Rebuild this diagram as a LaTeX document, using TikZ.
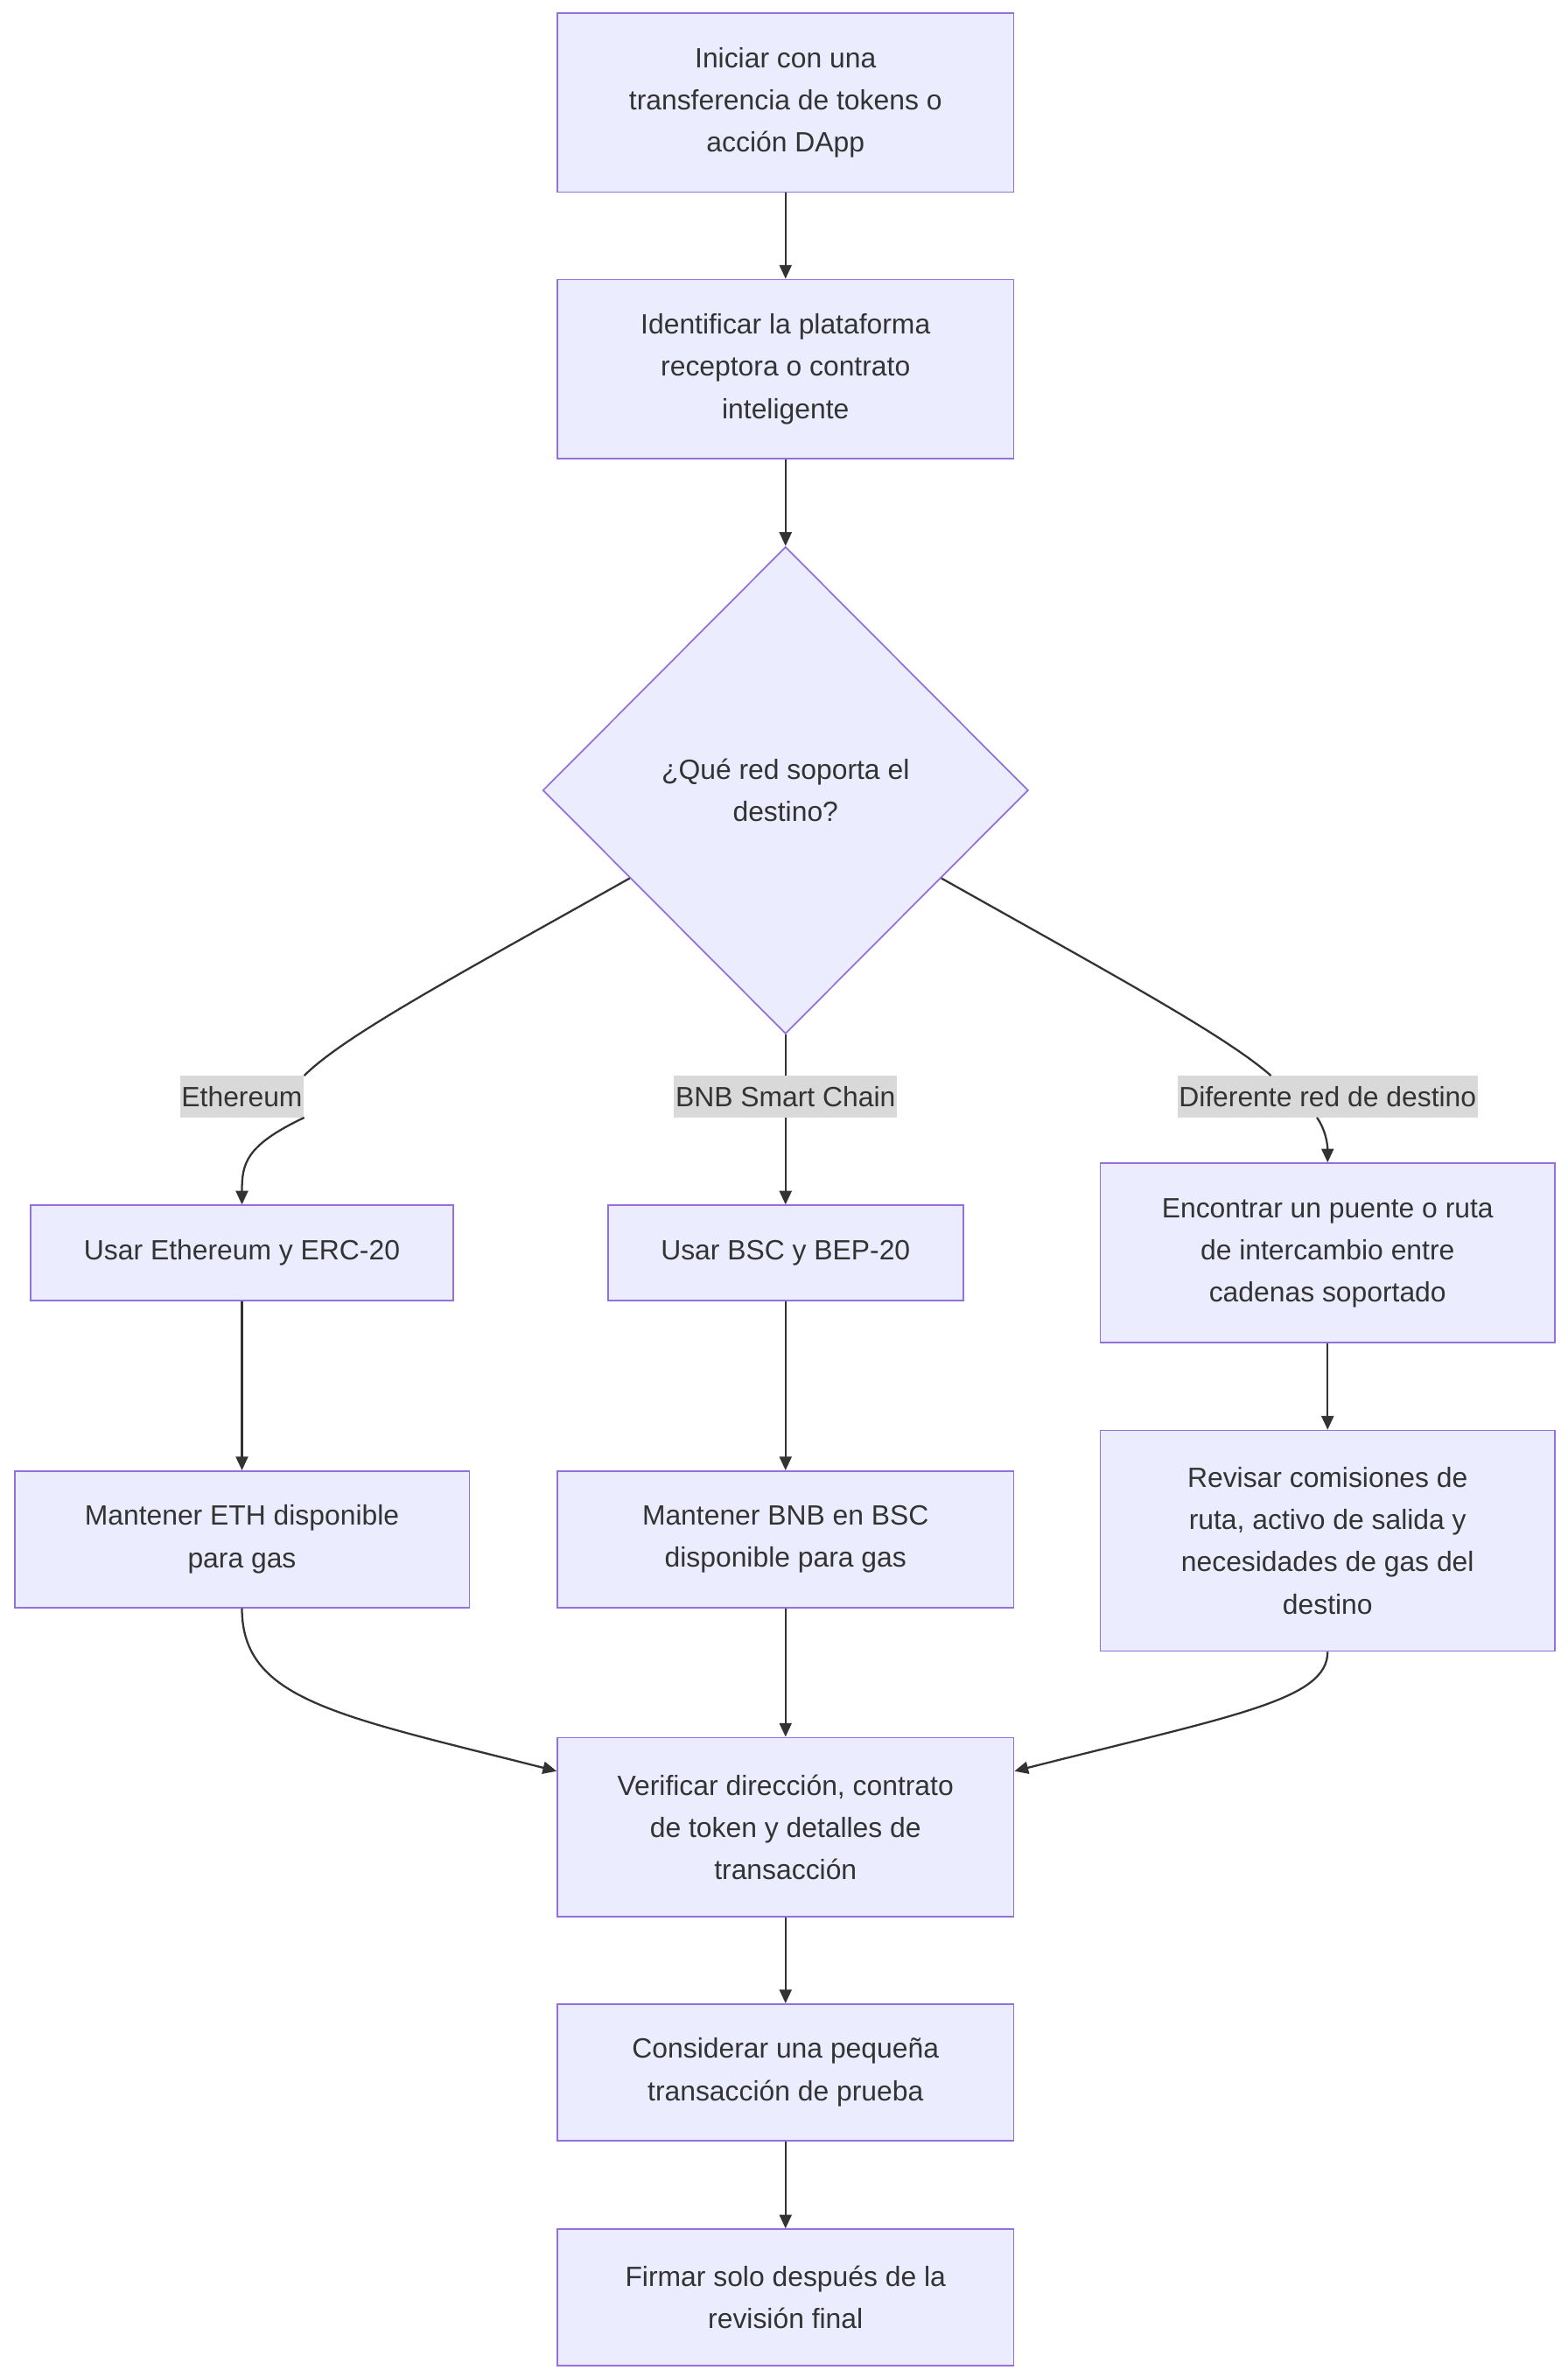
\documentclass[tikz,border=0pt]{standalone}
\usepackage{fontspec}
\setmainfont{Liberation Sans}
\usetikzlibrary{shapes.geometric,arrows.meta,calc}
\definecolor{nfill}{HTML}{ECECFF}
\definecolor{nstroke}{HTML}{9370DB}
\definecolor{ink}{HTML}{333333}
\definecolor{lbg}{HTML}{D9D9D9}
\begin{document}
\begin{tikzpicture}[x=1pt,y=-1pt,
  box/.style={draw=nstroke,fill=nfill,line width=1pt,rectangle,align=center,text=ink,font=\fontsize{18.2}{27.5}\selectfont,inner sep=0pt},
  lbl/.style={fill=lbg,text=ink,font=\fontsize{18.2}{20}\selectfont,inner sep=1pt,minimum height=27pt},
  arr/.style={draw=ink,line width=1.3pt,-{Triangle[length=9pt,width=8pt]}},
  ln/.style={draw=ink,line width=1.3pt}]
\useasboundingbox (0,0) rectangle (1024,1552);
\node[box,minimum width=298,minimum height=117] (n1) at (513,67) {Iniciar con una\\transferencia de tokens o\\acción DApp};
\node[box,minimum width=298,minimum height=117] (n2) at (513,241) {Identificar la plataforma\\receptora o contrato\\inteligente};
\node[draw=nstroke,fill=nfill,line width=1pt,diamond,minimum width=317,minimum height=318,inner sep=0pt,align=center,text=ink,font=\fontsize{18.2}{27.5}\selectfont] (d) at (513,516) {¿Qué red soporta el\\destino?};
\node[lbl] (le) at (158,716) {Ethereum};
\node[lbl] (lb) at (513,716) {BNB Smart Chain};
\node[lbl] (ld) at (867,716) {Diferente red de destino};
\node[box,minimum width=276,minimum height=62] (e1) at (158,818) {Usar Ethereum y ERC-20};
\node[box,minimum width=232,minimum height=62] (b1) at (513,818) {Usar BSC y BEP-20};
\node[box,minimum width=297,minimum height=117] (d1) at (867,818) {Encontrar un puente o ruta\\de intercambio entre\\cadenas soportado};
\node[box,minimum width=297,minimum height=89] (e2) at (158,1005) {Mantener ETH disponible\\para gas};
\node[box,minimum width=298,minimum height=89] (b2) at (513,1005) {Mantener BNB en BSC\\disponible para gas};
\node[box,minimum width=297,minimum height=144] (d2) at (867,1006) {Revisar comisiones de\\ruta, activo de salida y\\necesidades de gas del\\destino};
\node[box,minimum width=298,minimum height=117] (v) at (513,1193) {Verificar dirección, contrato\\de token y detalles de\\transacción};
\node[box,minimum width=298,minimum height=89] (c) at (513,1353) {Considerar una pequeña\\transacción de prueba};
\node[box,minimum width=298,minimum height=89] (f) at (513,1500) {Firmar solo después de la\\revisión final};
\coordinate (dl) at ($(d.west)!0.36!(d.south)$);
\coordinate (dr) at ($(d.east)!0.36!(d.south)$);
\draw[arr] (n1) -- (n2);
\draw[arr] (n2) -- (d);
\draw[ln] (dl) .. controls (300,636) and (225,676) .. (le.north east);
\draw[arr] (le.south east) .. controls (160,748) and (158,760) .. (e1.north);
\draw[ln] (d.south) -- (lb.north);
\draw[arr] (lb.south) -- (b1.north);
\draw[ln] (dr) .. controls (726,636) and (800,676) .. (ld.north -| 830,0);
\draw[arr] (ld.south -| 860,0) .. controls (866,738) and (867,748) .. (d1.north);
\draw[arr] (e1) -- (e2);
\draw[arr] (b1) -- (b2);
\draw[arr] (d1) -- (d2);
\draw[arr] (e2.south) .. controls (158,1110) and (220,1120) .. ($(v.north west)!0.19!(v.south west)$);
\draw[arr] (b2) -- (v);
\draw[arr] (d2.south) .. controls (867,1110) and (806,1120) .. ($(v.north east)!0.19!(v.south east)$);
\draw[arr] (v) -- (c);
\draw[arr] (c) -- (f);
\end{tikzpicture}
\end{document}
